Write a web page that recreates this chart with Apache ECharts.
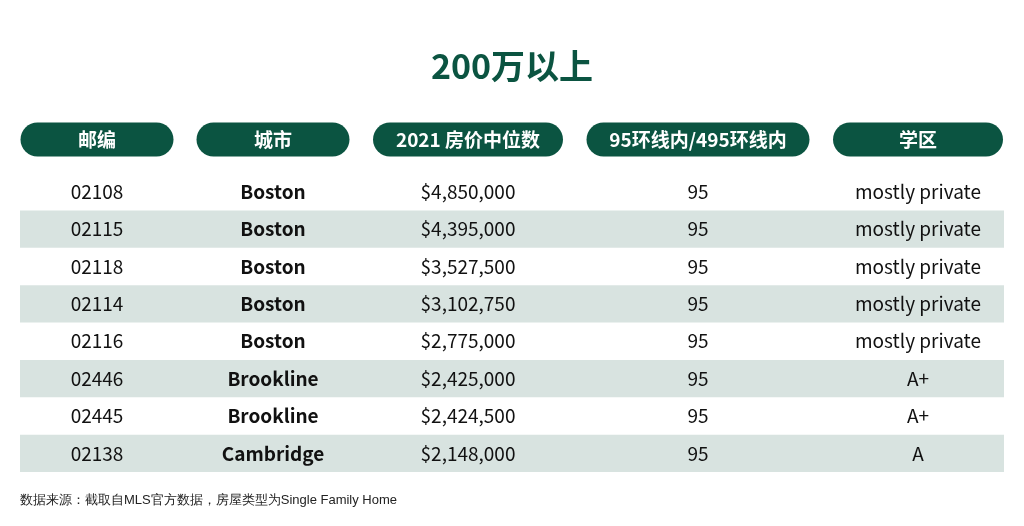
<!DOCTYPE html>
<html><head><meta charset="utf-8">
<script src="https://cdn.jsdelivr.net/npm/echarts@6/dist/echarts.min.js"></script>
<style>html,body{margin:0;padding:0;background:#fff}#c{width:1024px;height:526px}</style>
</head><body><div id="c"></div>
<script>
var headers = ['邮编', '城市', '2021 房价中位数', '95环线内/495环线内', '学区'];
var zips = ['02108', '02115', '02118', '02114', '02116', '02446', '02445', '02138'];
var cities = ['Boston', 'Boston', 'Boston', 'Boston', 'Boston', 'Brookline', 'Brookline', 'Cambridge'];
var prices = [4850000, 4395000, 3527500, 3102750, 2775000, 2425000, 2424500, 2148000];
var rings = ['95', '95', '95', '95', '95', '95', '95', '95'];
var schools = ['mostly private', 'mostly private', 'mostly private', 'mostly private', 'mostly private', 'A+', 'A+', 'A'];

// layout: column centres / pill widths in grid x units (pixels)
var colX = [77, 253, 448, 678, 898];
var colW = [153, 153, 190, 223, 170];
var GREEN = '#0b5441';
var FONT = '"Noto Sans CJK SC", "Noto Sans", sans-serif';

function fmt(v) { return '$' + v.toLocaleString('en-US'); }

var cellData = [];
zips.forEach(function (z, i) {
  [z, cities[i], fmt(prices[i]), rings[i], schools[i]].forEach(function (t, c) {
    cellData.push([c, i, t]);
  });
});

var chart = echarts.init(document.getElementById('c'));
chart.setOption({
  animation: false,
  title: { text: '200万以上', left: 'center', top: 44,
    textStyle: { color: GREEN, fontSize: 34, fontWeight: 'bold', fontFamily: FONT } },
  graphic: [{ type: 'text', left: 20, top: 494,
    style: { text: '数据来源：截取自MLS官方数据，房屋类型为Single Family Home', fontSize: 13, fill: '#222', font: '13px ' + FONT } }],
  grid: { left: 20, right: 20, top: 117, bottom: 54 },
  xAxis: { type: 'value', min: 0, max: 984, show: false },
  yAxis: { type: 'value', min: -2, max: 7.5, inverse: true, show: false },
  series: [
    { type: 'custom', silent: true, data: zips.map(function (z, i) { return [i]; }).filter(function (d) { return d[0] % 2 === 1; }),
      renderItem: function (p, api) {
        var a = api.coord([0, api.value(0) - 0.5]), b = api.coord([984, api.value(0) + 0.5]);
        return { type: 'rect', shape: { x: a[0], y: a[1], width: b[0] - a[0], height: b[1] - a[1] }, style: { fill: '#d8e3e0' } };
      } },
    { type: 'custom', silent: true, data: headers.map(function (h, c) { return [c, h]; }),
      renderItem: function (p, api) {
        var c = api.value(0), ctr = api.coord([colX[c], -1.4]);
        var w = colW[c], h = 34;
        return { type: 'group', children: [
          { type: 'rect', shape: { x: ctr[0] - w / 2, y: ctr[1] - h / 2, width: w, height: h, r: 17 }, style: { fill: GREEN } },
          { type: 'text', style: { x: ctr[0], y: ctr[1], text: headers[c], fill: '#fff', align: 'center', verticalAlign: 'middle', font: 'bold 19px ' + FONT } }
        ] };
      } },
    { type: 'custom', silent: true, data: cellData,
      renderItem: function (p, api) {
        var c = api.value(0), r = api.value(1), d = cellData[p.dataIndex];
        var pt = api.coord([colX[c], r]);
        return { type: 'text', style: { x: pt[0], y: pt[1], text: d[2], fill: '#111', align: 'center', verticalAlign: 'middle',
          font: (c === 1 ? 'bold ' : '') + '19px ' + FONT } };
      } }
  ]
});
</script></body></html>
